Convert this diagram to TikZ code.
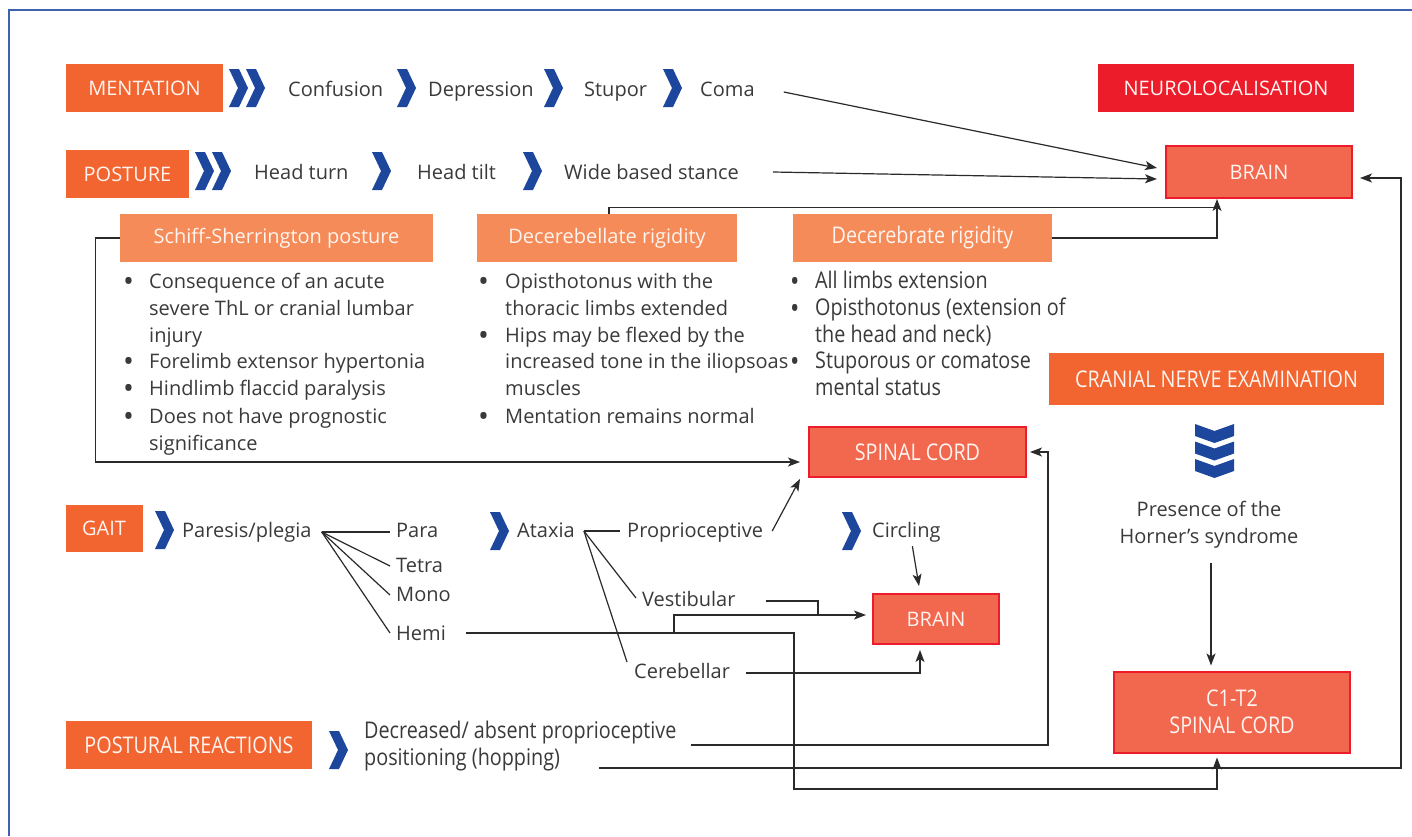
\documentclass[tikz,border=0pt]{standalone}
\usepackage{fontspec}
\setmainfont{Open Sans}
\newfontfamily\condf[FakeStretch=0.86]{Open Sans}
\usetikzlibrary{arrows.meta}
\definecolor{orgA}{HTML}{F26430}
\definecolor{orgB}{HTML}{F58B58}
\definecolor{redA}{HTML}{ED1C2B}
\definecolor{salmon}{HTML}{F2684F}
\definecolor{chevblue}{HTML}{1C479C}
\definecolor{frameblue}{HTML}{3E62AE}
\definecolor{txtgray}{HTML}{3A3A3A}
\definecolor{lngray}{HTML}{2A2A2A}
\definecolor{boxtxt}{HTML}{FFF4EF}
\newcommand\bodyfont{\fontsize{20}{27}\selectfont}
\newcommand\condfont{\condf\fontsize{23}{27}\selectfont}
\newcommand\mybul[1]{\makebox[#1][l]{\hspace*{-2pt}\raisebox{-3.2pt}{\fontsize{29}{27}\selectfont\textbullet}}}
\newcommand\chevR[2]{\fill[chevblue] (#1,#2) -- ++(10,0) -- ++(9,19) -- ++(-9,19) -- ++(-10,0) -- ++(9,-19) -- cycle;}
\newcommand\chevD[2]{\fill[chevblue] (#1,#2) -- ++(19.5,7) -- ++(19.5,-7) -- ++(0,12) -- ++(-19.5,7) -- ++(-19.5,-7) -- cycle;}
\begin{document}
\begin{tikzpicture}[x=1pt,y=-1pt,
 txt/.style={font=\bodyfont, text=txtgray, inner sep=0pt, text height=15pt, text depth=3pt, anchor=west},
 ctxt/.style={txt, font=\condfont},
 hbox/.style={fill=orgA, text=boxtxt, font=\bodyfont, inner sep=0pt, minimum height=48pt},
 lbox/.style={fill=orgB, text=boxtxt, font=\bodyfont, inner sep=0pt, minimum height=48pt, text height=15pt, text depth=4pt},
 locbox/.style={fill=salmon, draw=redA, line width=2pt, text=boxtxt, font=\bodyfont, inner sep=0pt, align=center},
 ln/.style={draw=lngray, line width=1.2pt},
 arr/.style={ln, -{Stealth[length=12pt,width=9pt,inset=3pt]}},
]
\useasboundingbox (0,0) rectangle (1412,836);
\fill[white] (0,0) rectangle (1412,836);
\draw[frameblue, line width=1.5pt] (9,836) -- (9,10) -- (1412,10);

% ---- header boxes
\node[hbox, minimum width=157pt] (ment) at (144.5,88) {MENTATION};
\node[hbox, minimum width=123pt] (post) at (127.5,174) {POSTURE};
\node[fill=redA, text=boxtxt, font=\bodyfont, inner sep=0pt, minimum width=256pt, minimum height=48pt] (neuro) at (1226,88) {NEUROLOCALISATION};
\node[locbox, minimum width=186pt, minimum height=52pt] (brainA) at (1259,172) {BRAIN};
\node[lbox, minimum width=313pt] (schiff) at (276.5,238) {Schiff-Sherrington posture};
\node[lbox, minimum width=260pt] (dcbl) at (607,238) {Decerebellate rigidity};
\node[lbox, minimum width=259pt, font=\condfont] (dcbr) at (922.5,238) {Decerebrate rigidity};
\node[hbox, minimum width=335pt, minimum height=52pt, font=\condfont] (cranial) at (1216.5,379) {CRANIAL NERVE EXAMINATION};
\node[locbox, minimum width=217pt, minimum height=50pt, font=\condfont] (spinal) at (917.5,452) {SPINAL CORD};
\node[hbox, minimum width=77pt, minimum height=47pt] (gait) at (104,528.5) {GAIT};
\node[locbox, minimum width=126pt, minimum height=50pt] (brainB) at (936,619) {BRAIN};
\node[locbox, minimum width=236pt, minimum height=81pt, font=\condfont] (c1t2) at (1232,712) {C1-T2\\SPINAL CORD};
\node[hbox, minimum width=246pt, minimum height=48pt, font=\condfont] (postr) at (189,745) {POSTURAL REACTIONS};

% ---- chevrons
\chevR{229}{69}\chevR{246}{69}
\chevR{397}{69}\chevR{544}{69}\chevR{663}{69}
\chevR{195}{152}\chevR{212}{152}
\chevR{372}{152}\chevR{523}{152}
\chevR{155}{511}\chevR{490}{512}\chevR{842}{512}
\chevR{329}{731}
\chevD{1195}{424}\chevD{1195}{441.5}\chevD{1195}{459}

% ---- row texts
\node[txt] (conf) at (288,90) {Confusion};
\node[txt] (depr) at (428,90) {Depression};
\node[txt] (stup) at (584,90) {Stupor};
\node[txt] (coma) at (700,90) {Coma};
\node[txt] (hturn) at (254,173) {Head turn};
\node[txt] (htilt) at (417,173) {Head tilt};
\node[txt] (wide) at (564,173) {Wide based stance};

% ---- bullet lists
\node[txt] (sa1) at (125,282) {\mybul{24pt}Consequence of an acute};
\node[txt] (sa2) at (149,309) {severe ThL or cranial lumbar};
\node[txt] (sa3) at (149,336) {injury};
\node[txt] (sa4) at (125,362) {\mybul{24pt}Forelimb extensor hypertonia};
\node[txt] (sa5) at (125,389) {\mybul{24pt}Hindlimb flaccid paralysis};
\node[txt] (sa6) at (125,417) {\mybul{24pt}Does not have prognostic};
\node[txt] (sa7) at (149,444) {significance};

\node[txt] (sb1) at (480,282) {\mybul{25pt}Opisthotonus with the};
\node[txt] (sb2) at (505,309) {thoracic limbs extended};
\node[txt] (sb3) at (480,336) {\mybul{25pt}Hips may be flexed by the};
\node[txt] (sb4) at (505,362) {increased tone in the iliopsoas};
\node[txt] (sb5) at (505,389) {muscles};
\node[txt] (sb6) at (480,417) {\mybul{25pt}Mentation remains normal};

\node[ctxt] (sc1) at (792,282) {\mybul{23pt}All limbs extension};
\node[ctxt] (sc2) at (792,309) {\mybul{23pt}Opisthotonus (extension of};
\node[ctxt] (sc3) at (815,336) {the head and neck)};
\node[ctxt] (sc4) at (792,362) {\mybul{23pt}Stuporous or comatose};
\node[ctxt] (sc5) at (815,389) {mental status};

\node[font=\bodyfont, text=txtgray, align=center, inner sep=0pt] (horner) at (1209,524.5) {Presence of the\\Horner’s syndrome};

% ---- gait texts
\node[txt] (pares) at (182,531) {Paresis/plegia};
\node[txt] (para) at (396,531) {Para};
\node[txt] (tetra) at (396,566) {Tetra};
\node[txt] (mono) at (396,595) {Mono};
\node[txt] (hemi) at (396,634) {Hemi};
\node[txt] (ataxia) at (517,531) {Ataxia};
\node[txt] (prop) at (627,531) {Proprioceptive};
\node[txt] (circ) at (872,531) {Circling};
\node[txt] (vest) at (642,600) {Vestibular};
\node[txt] (cereb) at (634,672) {Cerebellar};

\node[ctxt] (dec1) at (364,732) {Decreased/ absent proprioceptive};
\node[ctxt] (dec2) at (364,759) {positioning (hopping)};

% ---- connectors
\draw[arr] ([xshift=29,yshift=-2]coma.east) -- ([xshift=-8,yshift=4]brainA.west);
\draw[arr] ([xshift=34,yshift=1]wide.east) -- ([xshift=-8,yshift=-7]brainA.west);
\draw[arr] ([xshift=2]dcbl.north) -- ++(0,-6) -| ([xshift=-42]brainA.south);
\draw[ln] (dcbr.east) -| ([xshift=-42,yshift=-9]brainA.south);
\draw[arr] (schiff.west) -- ++(-24,0) |- ([xshift=-8,yshift=-10]spinal.west);
\draw[arr] ([xshift=9]prop.east) -- ([xshift=-8,yshift=-1]spinal.south west);
\draw[arr] ([xshift=6,yshift=-6]circ.south) -- ([xshift=-17,yshift=7]brainB.north);
\draw[arr] ([xshift=20,yshift=1]hemi.east) -| ([xshift=-198,yshift=4]brainB.west) -- ([xshift=-6,yshift=4]brainB.west);
\draw[arr] ([xshift=20,yshift=1]hemi.east) -| ([xshift=-78,yshift=-170]brainB.west) -| ([xshift=-15,yshift=-4]c1t2.south);
\draw[ln] ([xshift=30,yshift=-1]vest.east) -| ([xshift=-54,yshift=4]brainB.west);
\draw[arr] ([xshift=16,yshift=-1]cereb.east) -| ([xshift=-16,yshift=-5]brainB.south);
\draw[arr] ([xshift=14,yshift=-13]dec1.east) -| ([xshift=21]spinal.east) -- ([xshift=3]spinal.east);
\draw[arr] ([xshift=39,yshift=-9]dec2.east) -| ([xshift=48,yshift=-6]brainA.east) -- ([xshift=7,yshift=-6]brainA.east);
\draw[arr] ([xshift=2,yshift=-15]horner.south) -- ([xshift=-21,yshift=5]c1t2.north);

\coordinate (po) at ([xshift=10,yshift=-1]pares.east);
\draw[ln] (po) -- ([xshift=-6,yshift=-1]para.west);
\draw[ln] (po) -- ([xshift=-6]tetra.west);
\draw[ln] (po) -- ([xshift=-6]mono.west);
\draw[ln] (po) -- ([xshift=-6,yshift=1]hemi.west);
\coordinate (ao) at ([xshift=9]ataxia.east);
\draw[ln] (ao) -- ([xshift=-7]prop.west);
\draw[ln] (ao) -- ([xshift=-6,yshift=2]vest.west);
\draw[ln] (ao) -- ([xshift=-7,yshift=10]cereb.west);
\end{tikzpicture}
\end{document}
